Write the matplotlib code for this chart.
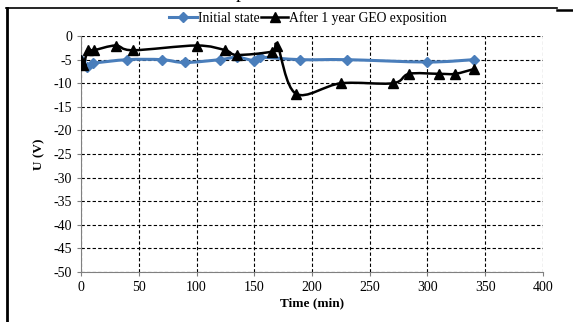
import numpy as np
import matplotlib.pyplot as plt
from matplotlib.path import Path
from matplotlib.patches import PathPatch
from matplotlib.lines import Line2D

# datos
t_init = [0, 5, 10, 40, 70, 90, 120, 135, 150, 155, 190, 230, 300, 340]
u_init = [-5, -6.5, -5.8, -5, -5, -5.6, -5, -4.5, -5.2, -4.5, -5, -5, -5.5, -5]

t_geo = [0, 2, 6, 11, 30, 45, 100, 125, 135, 165, 170, 186, 225, 270, 284, 310, 324, 340]
u_geo = [-5, -6.2, -3, -3, -2, -3, -2, -3, -4, -3.3, -2, -12.2, -10, -10, -8, -8, -8, -7]

plt.rcParams['font.family'] = ['Liberation Serif', 'DejaVu Serif']
plt.rcParams['axes.unicode_minus'] = False

BLUE = '#4a7ebb'


def smooth_path(x, y):
    # curva tipo "smooth" de Excel (Bezier con tangentes Catmull-Rom)
    p = np.column_stack([x, y]).astype(float)
    n = len(p)
    verts = [p[0]]
    codes = [Path.MOVETO]
    for i in range(n - 1):
        p0 = p[i - 1] if i > 0 else p[i]
        p3 = p[i + 2] if i + 2 < n else p[i + 1]
        c1 = p[i] + (p[i + 1] - p0) / 6
        c2 = p[i + 1] - (p3 - p[i]) / 6
        verts += [c1, c2, p[i + 1]]
        codes += [Path.CURVE4] * 3
    return Path(verts, codes)


fig = plt.figure(figsize=(5.73, 3.22), dpi=100)
ax = fig.add_axes([0.1414, 0.155, 0.8062, 0.733])

ax.add_patch(PathPatch(smooth_path(t_init, u_init), fc='none', ec=BLUE, lw=2.2, zorder=3))
ax.add_patch(PathPatch(smooth_path(t_geo, u_geo), fc='none', ec='black', lw=1.8, zorder=4))
ax.plot(t_init, u_init, ls='none', marker='D', ms=5, color=BLUE, zorder=3)
ax.plot(t_geo, u_geo, ls='none', marker='^', ms=6.5, color='black', zorder=4)

ax.set_xlim(0, 400)
ax.set_ylim(-50, 0)
ax.set_xticks(range(0, 401, 50))
ax.set_yticks(range(-50, 1, 5))
ax.grid(True, color='black', ls=(0, (3, 2)), lw=0.8)
ax.set_axisbelow(True)
for s in ['top', 'right']:
    ax.spines[s].set_visible(False)
for s in ['left', 'bottom']:
    ax.spines[s].set_color('#808080')
ax.tick_params(colors='#808080', labelcolor='black', labelsize=10, length=3)
ax.set_xlabel('Time (min)', fontweight='bold', fontsize=9.5, labelpad=2)
ax.set_ylabel('U (V)', fontweight='bold', fontsize=9.5, labelpad=6)

handles = [Line2D([], [], color=BLUE, lw=2.2, marker='D', ms=5),
           Line2D([], [], color='black', lw=1.8, marker='^', ms=6.5)]
fig.legend(handles, ['Initial state', 'After 1 year GEO exposition'],
           loc='center', bbox_to_anchor=(0.538, 0.944), ncol=2, frameon=False,
           fontsize=9.8, handlelength=2.0, handletextpad=0.1, columnspacing=0.1)

# marco de la imagen original
fig.add_artist(Line2D([0.01, 0.972], [0.975, 0.975], color='black', lw=1.2))
fig.add_artist(Line2D([0.972, 1.0], [0.969, 0.969], color='black', lw=1.8))
fig.add_artist(Line2D([0.013, 0.013], [0.975, 0.0], color='black', lw=2))
fig.text(0.42, 1.02, 'p', fontsize=14, ha='center', va='center')

fig.savefig('out.png', dpi=100)
